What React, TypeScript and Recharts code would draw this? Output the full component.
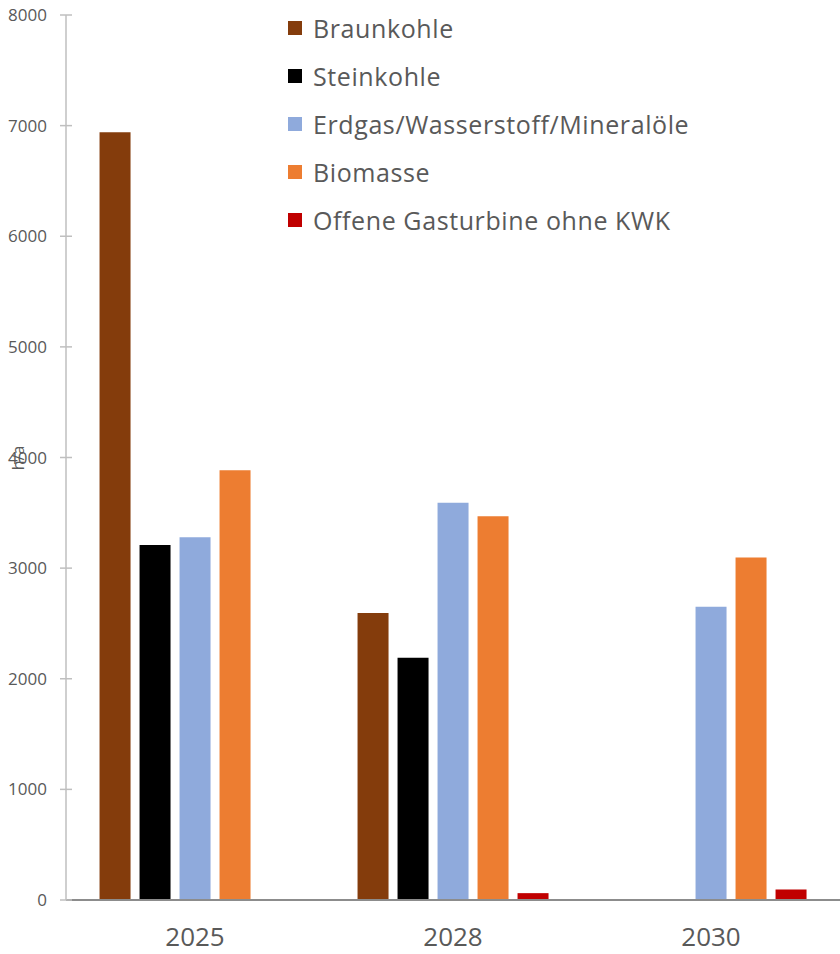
import React from 'react';
import { BarChart, Bar, XAxis, YAxis, Legend } from 'recharts';

const categories = ['2025', '2028', '2030'];
const braunkohle = [6940, 2595, 0];
const steinkohle = [3210, 2190, 0];
const erdgas = [3280, 3590, 2650];
const biomasse = [3885, 3470, 3095];
const offeneGasturbine = [8, 62, 95];
const yTicks = [0, 1000, 2000, 3000, 4000, 5000, 6000, 7000, 8000];

const seriesNames = [
  'Braunkohle',
  'Steinkohle',
  'Erdgas/Wasserstoff/Mineralöle',
  'Biomasse',
  'Offene Gasturbine ohne KWK',
];
const seriesKeys = ['braun', 'stein', 'erdgas', 'bio', 'offen'];
const seriesColors = ['#843C0C', '#000000', '#8FAADC', '#ED7D31', '#C00000'];

const data = categories.map((c, i) => ({
  year: c,
  braun: braunkohle[i],
  stein: steinkohle[i],
  erdgas: erdgas[i],
  bio: biomasse[i],
  offen: offeneGasturbine[i],
}));

const FONT = '"Open Sans", sans-serif';
const TEXT = '#595959';

const YTick = (props: any) => {
  const { x, y, payload } = props;
  return (
    <g>
      <line x1={x - 6} x2={x + 6} y1={y} y2={y} stroke="#BFBFBF" strokeWidth={1.5} />
      <text x={x - 19} y={y + 6} textAnchor="end" fontSize={17} fontFamily={FONT} fill={TEXT}>
        {payload.value}
      </text>
    </g>
  );
};

const XTick = (props: any) => {
  const { x, y, payload } = props;
  return (
    <text x={x} y={y + 46} textAnchor="middle" fontSize={26} fontFamily={FONT} fill={TEXT}>
      {payload.value}
    </text>
  );
};

const LegendContent = () => (
  <div style={{ position: 'relative', width: 500, height: 250 }}>
    {seriesNames.map((n, i) => (
      <div
        key={n}
        style={{
          position: 'absolute',
          left: 0,
          top: 4 + i * 48,
          height: 48,
          display: 'flex',
          alignItems: 'center',
          whiteSpace: 'nowrap',
        }}
      >
        <span style={{ display: 'inline-block', width: 14, height: 14, background: seriesColors[i], marginRight: 11 }} />
        <span style={{ fontFamily: FONT, fontSize: 25, letterSpacing: '0.6px', color: TEXT, lineHeight: '48px' }}>{n}</span>
      </div>
    ))}
  </div>
);

export default function App() {
  return (
    <div style={{ position: 'absolute', left: 0, top: 0, width: 840, height: 954, background: '#fff' }}>
      <BarChart
        width={840}
        height={954}
        data={data}
        margin={{ top: 15, right: 0, bottom: 0, left: 0 }}
        barCategoryGap="13%"
        barGap={9}
      >
        <XAxis
          dataKey="year"
          height={54}
          axisLine={{ stroke: '#8C8C8C', strokeWidth: 2 }}
          tickLine={false}
          tickSize={0}
          tickMargin={0}
          tick={<XTick />}
          interval={0}
        />
        <YAxis
          width={66}
          domain={[0, 8000]}
          ticks={yTicks}
          interval={0}
          axisLine={{ stroke: '#BFBFBF', strokeWidth: 1.5 }}
          tickLine={false}
          tickSize={0}
          tickMargin={0}
          tick={<YTick />}
          label={{
            content: () => (
              <text
                x={24}
                y={458}
                transform="rotate(-90 24 458)"
                textAnchor="middle"
                fontSize={16}
                fontFamily={FONT}
                fill={TEXT}
              >
                h/a
              </text>
            ),
          }}
        />
        <Legend
          layout="horizontal"
          verticalAlign="middle"
          align="center"
          content={<LegendContent />}
          wrapperStyle={{ position: 'absolute', left: 288, top: 0, width: 500, height: 250 }}
        />
        {seriesKeys.map((k, i) => (
          <Bar key={k} dataKey={k} name={seriesNames[i]} fill={seriesColors[i]} isAnimationActive={false} />
        ))}
      </BarChart>
    </div>
  );
}
